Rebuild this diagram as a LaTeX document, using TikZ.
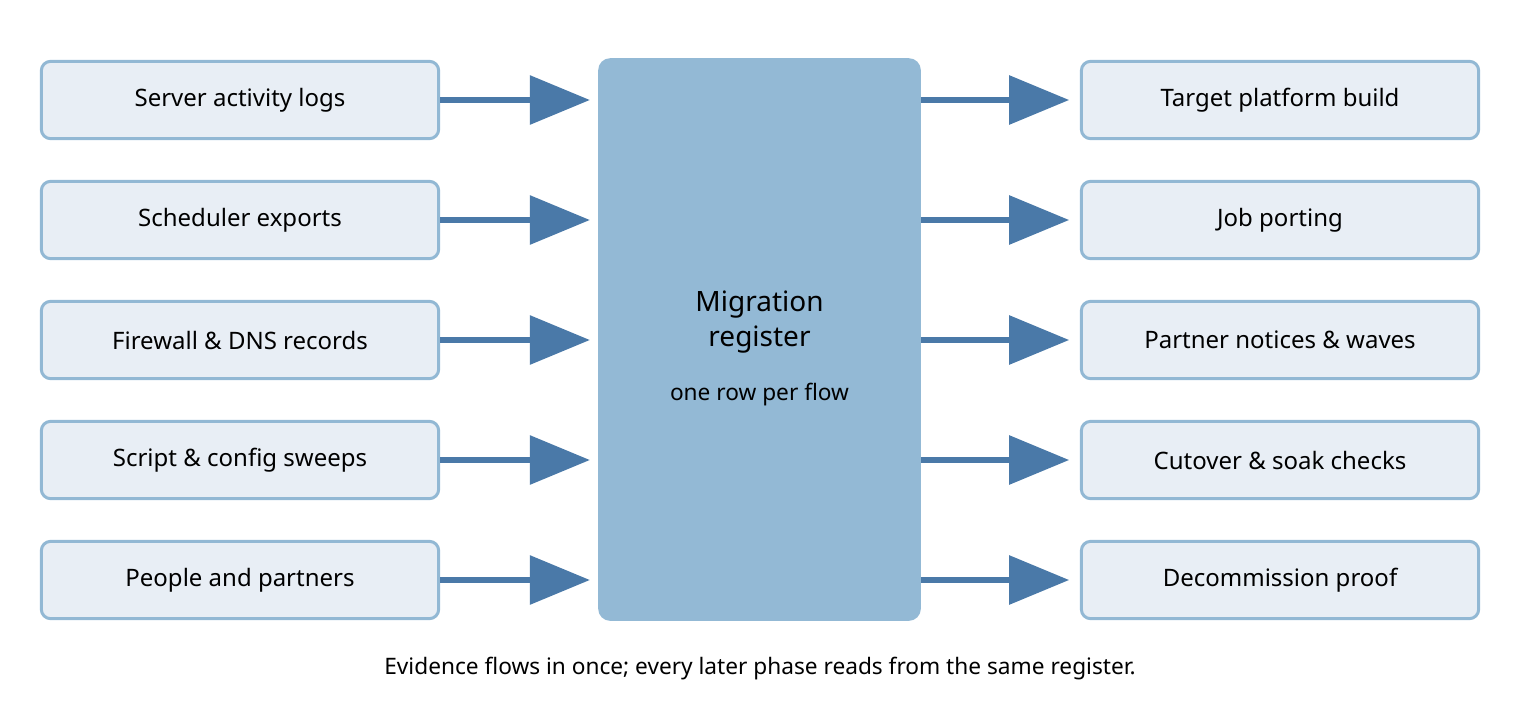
\documentclass[tikz,border=0pt]{standalone}
\usepackage{fontspec}
\setmainfont{Noto Sans}
\usetikzlibrary{arrows.meta}
\definecolor{boxfill}{HTML}{E8EEF5}
\definecolor{boxline}{HTML}{92B8D4}
\definecolor{midfill}{HTML}{93B9D5}
\definecolor{arr}{HTML}{4A79A8}
\begin{document}
\begin{tikzpicture}[x=0.75pt,y=-0.75pt,
  box/.style={draw=boxline,fill=boxfill,line width=2.25pt,rounded corners=7pt,minimum width=298pt,minimum height=58pt,font=\fontsize{18}{20}\selectfont,inner sep=0pt},
  flow/.style={draw=arr,line width=4.5pt,-{Triangle[length=45pt,width=36pt]}}]
\useasboundingbox (0,0) rectangle (1520,700);
\node[fill=midfill,rounded corners=9pt,minimum width=242pt,minimum height=422pt,inner sep=0pt] (m) at (759.5,339.5) {};
\node[align=center,font=\fontsize{21}{26}\selectfont\bfseries] (mt) at (759.5,322) {Migration\\register};
\node[font=\fontsize{17}{20}\selectfont] (ms) at (759.5,395) {one row per flow};
\foreach \i/\y/\lt/\rt in {1/100/Server activity logs/Target platform build,
  2/220/Scheduler exports/Job porting,
  3/340/Firewall \& DNS records/Partner notices \& waves,
  4/460/Script \& config sweeps/Cutover \& soak checks,
  5/580/People and partners/Decommission proof}{
  \node[box] (l\i) at (240,\y) {\lt};
  \node[box] (r\i) at (1280,\y) {\rt};
  \draw[flow,shorten >=6pt] (l\i.east) -- (l\i.east -| m.west);
  \draw[flow,shorten >=8pt] (l\i.east -| m.east) -- (r\i.west);
}
\node[font=\fontsize{17}{20}\selectfont] (cap) at (760,669) {Evidence flows in once; every later phase reads from the same register.};
\end{tikzpicture}
\end{document}
